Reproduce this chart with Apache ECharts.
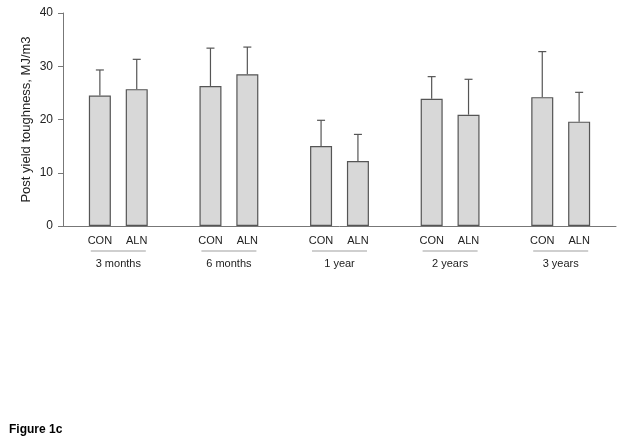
<!DOCTYPE html>
<html>
<head>
<meta charset="utf-8">
<script src="https://cdn.jsdelivr.net/npm/echarts@6/dist/echarts.min.js"></script>
<style>html,body{margin:0;padding:0;background:#fff}#c{width:624px;height:442px}</style>
</head>
<body>
<div id="c"></div>
<script>
const groups = ['3 months', '6 months', '1 year', '2 years', '3 years'];
const treatments = ['CON', 'ALN'];
const conMean = [24.5, 26.3, 15.0, 23.9, 24.2];
const conSD   = [4.8, 7.1, 4.85, 4.15, 8.55];
const alnMean = [25.7, 28.5, 12.2, 20.9, 19.6];
const alnSD   = [5.6, 5.1, 5.0, 6.65, 5.5];
const yTicks = [0, 10, 20, 30, 40];

// slots: spacer, CON, ALN, spacer, CON, ALN, ... spacer
const slots = [''];
const barData = [null];
const errData = [];
groups.forEach((g, i) => {
  slots.push(treatments[0], treatments[1], '');
  const base = slots.length - 3;
  barData.push(conMean[i], alnMean[i], null);
  errData.push([base, conMean[i], conMean[i] + conSD[i]]);
  errData.push([base + 1, alnMean[i], alnMean[i] + alnSD[i]]);
});
const barSeriesData = barData.map(v => v == null ? '-' : v);

const chart = echarts.init(document.getElementById('c'));
const font = 'Liberation Sans, Arial, sans-serif';
chart.setOption({
  animation: false,
  title: {
    text: 'Figure 1c', left: 4, top: 419,
    textStyle: {fontFamily: font, fontWeight: 'bold', fontSize: 12, color: '#000'}
  },
  grid: {left: 63, right: 8, top: 13, bottom: 216, containLabel: false},
  xAxis: [{
    type: 'category', data: slots, boundaryGap: false,
    axisLine: {lineStyle: {color: '#777', width: 1}},
    axisTick: {show: false},
    axisLabel: {interval: 0, margin: 9, fontFamily: font, fontSize: 11, color: '#222'}
  }, {
    type: 'category', data: groups, boundaryGap: true, position: 'bottom',
    axisLine: {show: false}, axisTick: {show: false},
    axisLabel: {
      interval: 0, margin: 24,
      formatter: v => '{u|}\n{g|' + v + '}',
      rich: {
        u: {width: 55, height: 2, lineHeight: 2, backgroundColor: '#cfcfcf'},
        g: {fontFamily: font, fontSize: 11, color: '#222', lineHeight: 24}
      }
    }
  }],
  yAxis: {
    type: 'value', min: yTicks[0], max: yTicks[yTicks.length - 1], interval: 10,
    name: 'Post yield toughness, MJ/m3', nameLocation: 'middle', nameGap: 30,
    nameMoveOverlap: false,
    nameTextStyle: {fontFamily: font, fontSize: 13, color: '#222'},
    axisLine: {show: true, lineStyle: {color: '#777', width: 1}},
    axisTick: {show: true, inside: false, length: 5, lineStyle: {color: '#777'}},
    splitLine: {show: false},
    axisLabel: {fontFamily: font, fontSize: 12, color: '#222', margin: 10}
  },
  series: [{
    type: 'bar', data: barSeriesData, barWidth: 22, xAxisIndex: 0,
    itemStyle: {color: '#d8d8d8', borderColor: '#555', borderWidth: 1.2}
  }, {
    type: 'custom', xAxisIndex: 0, data: errData, z: 1,
    renderItem: (params, api) => {
      const x = api.value(0);
      const p0 = api.coord([x, api.value(1)]);
      const p1 = api.coord([x, api.value(2)]);
      const st = {stroke: '#555', lineWidth: 1.2};
      return {type: 'group', children: [
        {type: 'line', shape: {x1: p0[0], y1: p0[1], x2: p1[0], y2: p1[1]}, style: st},
        {type: 'line', shape: {x1: p1[0] - 4, y1: p1[1], x2: p1[0] + 4, y2: p1[1]}, style: st}
      ]};
    }
  }]
});
</script>
</body>
</html>
